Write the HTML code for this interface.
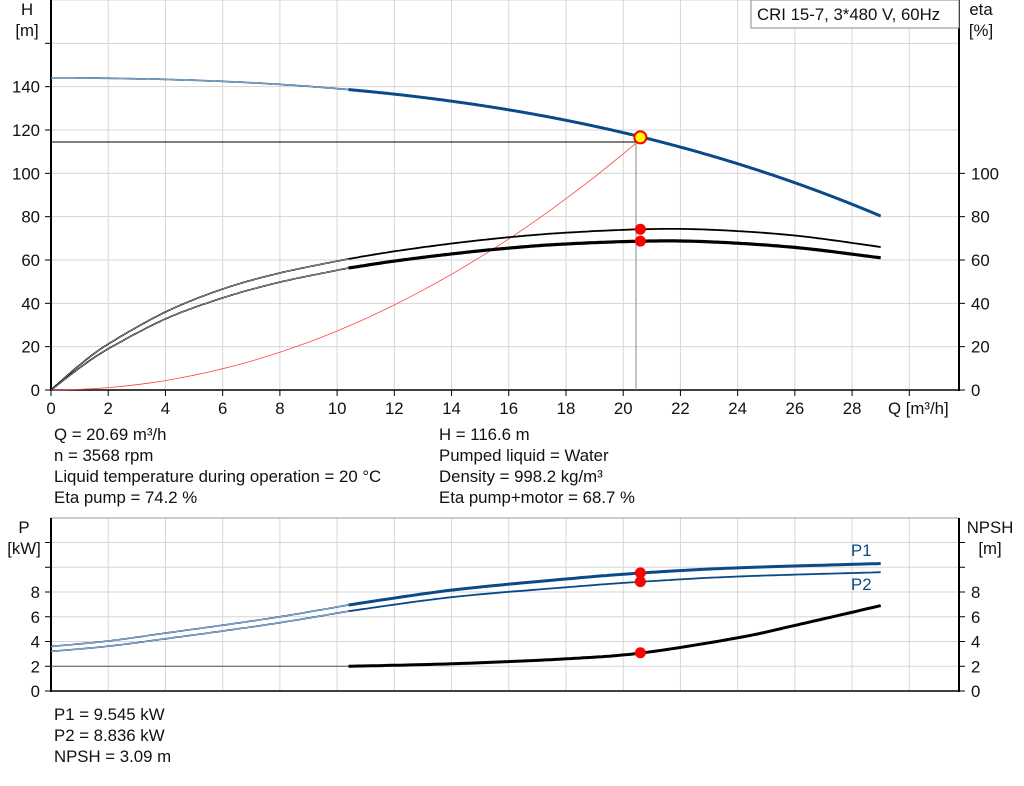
<!DOCTYPE html>
<html><head><meta charset="utf-8"><style>
body{margin:0;background:#fff;width:1024px;height:781px;overflow:hidden;font-family:"Liberation Sans",Arial,sans-serif}
svg text{font-family:"Liberation Sans",Arial,sans-serif;font-size:16.8px;fill:#111}
</style></head><body>
<svg id="s" width="1024" height="781" xmlns="http://www.w3.org/2000/svg"></svg>
<script>
const s=document.getElementById('s');let h='';
const X=q=>51+q*28.61, YT=v=>390-v*2.1667, YB=v=>691-v*12.375;
const B='#0b4a88';
function cr(pts,fx,fy){let o=[];for(let i=0;i<pts.length-1;i++){const p0=pts[Math.max(0,i-1)],p1=pts[i],p2=pts[i+1],p3=pts[Math.min(pts.length-1,i+2)];for(let t=0;t<1;t+=0.05){const t2=t*t,t3=t2*t;const f=(a,b,c,d)=>0.5*(2*b+(-a+c)*t+(2*a-5*b+4*c-d)*t2+(-a+3*b-3*c+d)*t3);o.push(fx(f(p0[0],p1[0],p2[0],p3[0])).toFixed(1)+','+fy(f(p0[1],p1[1],p2[1],p3[1])).toFixed(1));}}const l=pts[pts.length-1];o.push(fx(l[0]).toFixed(1)+','+fy(l[1]).toFixed(1));return o.join(' ');}
function seg(pts,a,b){return pts.filter(p=>p[0]>=a-1e-9&&p[0]<=b+1e-9);}
function line(pts,fy,c,w){h+=`<polyline points="${cr(pts,X,fy)}" fill="none" stroke="${c}" stroke-width="${w}" stroke-linejoin="round"/>`;}
function twin(pts,fy,c,w){
 const a=seg(pts,0,10.4),b=seg(pts,10.4,29);
 line(a,fy,c,1.6);line(a,fy,'#fff',0.5);line(b,fy,c,w);}
for(let q=2;q<=30;q+=2)h+=`<line x1="${X(q)}" y1="0" x2="${X(q)}" y2="390" stroke="#d6d6d6"/>`;
for(let v=20;v<=180;v+=20)h+=`<line x1="51" y1="${YT(v)}" x2="959" y2="${YT(v)}" stroke="#d6d6d6"/>`;
for(let q=2;q<=30;q+=2)h+=`<line x1="${X(q)}" y1="518" x2="${X(q)}" y2="691" stroke="#d6d6d6"/>`;
for(let v=2;v<=12;v+=2)h+=`<line x1="51" y1="${YB(v)}" x2="959" y2="${YB(v)}" stroke="#d6d6d6"/>`;
h+=`<line x1="51" y1="518" x2="959" y2="518" stroke="#999"/>`;
h+=`<line x1="51" y1="0" x2="51" y2="391" stroke="#000" stroke-width="2"/><line x1="959" y1="0" x2="959" y2="391" stroke="#000" stroke-width="2"/><line x1="50" y1="390" x2="960" y2="390" stroke="#000" stroke-width="1.5"/>`;
h+=`<line x1="51" y1="518" x2="51" y2="692" stroke="#000" stroke-width="2"/><line x1="959" y1="518" x2="959" y2="692" stroke="#000" stroke-width="2"/><line x1="50" y1="691" x2="960" y2="691" stroke="#000" stroke-width="1.5"/>`;
for(let v=0;v<=160;v+=20){h+=`<line x1="45" y1="${YT(v)}" x2="51" y2="${YT(v)}" stroke="#000"/>`;if(v<=140)h+=`<text x="40" y="${YT(v)+6}" text-anchor="end">${v}</text>`;}
for(let v=0;v<=100;v+=20){h+=`<line x1="959" y1="${YT(v)}" x2="965" y2="${YT(v)}" stroke="#000"/><text x="971" y="${YT(v)+6}">${v}</text>`;}
for(let q=0;q<=28;q+=2){h+=`<line x1="${X(q)}" y1="390" x2="${X(q)}" y2="396" stroke="#000"/><text x="${X(q)}" y="414" text-anchor="middle">${q}</text>`;}
h+=`<line x1="${X(30)}" y1="390" x2="${X(30)}" y2="396" stroke="#000"/><text x="888" y="414">Q [m³/h]</text>`;
for(let v=0;v<=12;v+=2){h+=`<line x1="45" y1="${YB(v)}" x2="51" y2="${YB(v)}" stroke="#000"/><line x1="959" y1="${YB(v)}" x2="965" y2="${YB(v)}" stroke="#000"/>`;if(v<=8)h+=`<text x="40" y="${YB(v)+6}" text-anchor="end">${v}</text><text x="971" y="${YB(v)+6}">${v}</text>`;}
h+=`<text x="27" y="15" text-anchor="middle">H</text><text x="27" y="36" text-anchor="middle">[m]</text><text x="981" y="15" text-anchor="middle">eta</text><text x="981" y="36" text-anchor="middle">[%]</text>`;
h+=`<text x="24" y="533" text-anchor="middle">P</text><text x="24" y="554" text-anchor="middle">[kW]</text><text x="990" y="533" text-anchor="middle">NPSH</text><text x="990" y="554" text-anchor="middle">[m]</text>`;
h+=`<rect x="751" y="0" width="208" height="28" fill="#fff" stroke="#888"/><text x="757" y="20">CRI 15-7, 3*480 V, 60Hz</text>`;
h+=`<line x1="51" y1="142" x2="636" y2="142" stroke="#000"/><line x1="636" y1="142" x2="636" y2="390" stroke="#888"/>`;
let sys=[];for(let q=0;q<=20.5;q+=0.5)sys.push([q,0.2725*q*q]);
h+=`<polyline points="${sys.map(p=>X(p[0]).toFixed(1)+','+YT(p[1]).toFixed(1)).join(' ')}" fill="none" stroke="#f44" stroke-width="0.8"/>`;
let H=[];for(let q=0;q<=29.001;q+=0.5){const qq=Math.min(q,29);H.push([qq,144-0.03483*qq*qq-0.001411*qq*qq*qq]);}
H=H.filter(p=>Math.abs(p[0]-10.5)>0.01);H.push([10.4,144-0.03483*108.16-0.001411*1124.9]);H.sort((a,b)=>a[0]-b[0]);
twin(H,YT,B,3);
const E1=[[0,0],[1,11.5],[2,21.2],[4,36],[6,46.6],[8,54],[10.4,60.5],[12,64],[14,67.6],[16,70.5],[18,72.6],[20.69,74.2],[23,74],[26,71.3],[29,66]];
const E2=[[0,0],[1,10.2],[2,19],[4,32.8],[6,42.5],[8,49.8],[10.4,56.3],[12,59.5],[14,62.8],[16,65.5],[18,67.4],[20.69,68.7],[23,68.4],[26,65.8],[29,61]];
twin(E1,YT,'#000',1.8);twin(E2,YT,'#000',3.2);
const P1=[[0,3.6],[2,4.04],[4,4.68],[6,5.32],[8,6.0],[10.4,6.95],[14,8.15],[18,9.05],[20.69,9.545],[24,9.95],[29,10.3]];
const P2=[[0,3.2],[2,3.62],[4,4.22],[6,4.85],[8,5.52],[10.4,6.45],[14,7.58],[18,8.38],[20.69,8.836],[24,9.25],[29,9.6]];
twin(P1,YB,B,3);twin(P2,YB,B,1.8);
h+=`<line x1="51" y1="${YB(2)}" x2="349" y2="${YB(2)}" stroke="#555"/>`;
line([[10.4,2],[14,2.2],[18,2.6],[20.69,3.09],[24,4.3],[26,5.3],[29,6.9]],YB,'#000',3);
h+=`<text x="851" y="556" style="fill:${B}">P1</text><text x="851" y="590" style="fill:${B}">P2</text>`;
const mx=X(20.6);
h+=`<circle cx="${mx}" cy="${YT(74.2)}" r="5.5" fill="#f00"/><circle cx="${mx}" cy="${YT(68.7)}" r="5.5" fill="#f00"/>`;
h+=`<circle cx="${mx}" cy="${YB(9.545)}" r="5.5" fill="#f00"/><circle cx="${mx}" cy="${YB(8.836)}" r="5.5" fill="#f00"/><circle cx="${mx}" cy="${YB(3.09)}" r="5.5" fill="#f00"/>`;
h+=`<circle cx="${mx}" cy="${YT(116.6)}" r="6" fill="#ff0" stroke="#f00" stroke-width="2"/>`;
const t=[[54,440,'Q = 20.69 m³/h'],[54,461,'n = 3568 rpm'],[54,482,'Liquid temperature during operation = 20 °C'],[54,503,'Eta pump = 74.2 %'],[439,440,'H = 116.6 m'],[439,461,'Pumped liquid = Water'],[439,482,'Density = 998.2 kg/m³'],[439,503,'Eta pump+motor = 68.7 %'],[54,720,'P1 = 9.545 kW'],[54,741,'P2 = 8.836 kW'],[54,762,'NPSH = 3.09 m']];
t.forEach(a=>h+=`<text x="${a[0]}" y="${a[1]}">${a[2]}</text>`);
s.innerHTML=h;
</script>
</body></html>
